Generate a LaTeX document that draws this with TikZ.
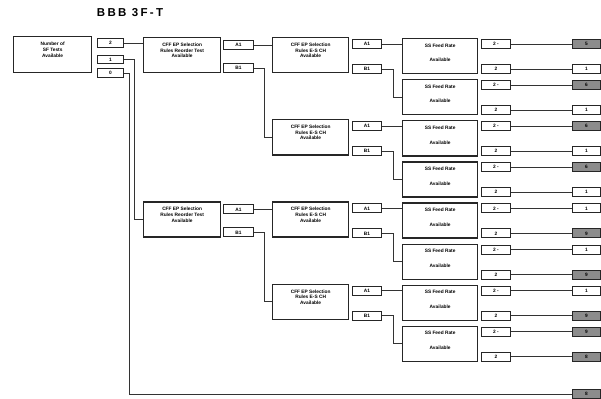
\documentclass[tikz,border=0pt]{standalone}
\usepackage{fontspec}
\setmainfont{Liberation Sans}
\usetikzlibrary{calc}

\begin{document}
\begin{tikzpicture}[x=1pt,y=-1pt,
      font=\fontsize{4.8}{5.6}\selectfont\bfseries,
      unitbox/.style={draw=black!85,line width=1.3pt,anchor=north west,
                      inner sep=0pt,align=center,minimum height=35pt},
      tagbox/.style={draw=black!85,line width=1pt,anchor=north west,
                     inner sep=0pt,minimum width=29pt,minimum height=9pt},
      endbox/.style={tagbox,minimum width=28pt},
      link/.style={draw=black!80,line width=0.8pt}]
    \useasboundingbox (0,0) rectangle (601,398);
    \node[font=\fontsize{11.5}{11.5}\selectfont\bfseries\addfontfeature{LetterSpace=20}]
      (title) at (130,13) {BBB 3F-T};
    % last column: feed units, outputs and end boxes
    \foreach \r/\ca/\cb/\la/\lb in {0/black!45/white/5/1,1/black!45/white/6/1,
        2/black!45/white/6/1,3/black!45/white/6/1,4/white/black!45/1/9,
        5/white/black!45/1/9,6/white/black!45/1/9,7/black!45/black!45/9/8}{
      \pgfmathsetmacro\ty{38+41.1*\r}
      \node[unitbox,minimum width=75pt] (l3-\r) at (402,\ty)
        {SS Feed Rate\\[9pt]Available\\[1pt]};
      \node[tagbox] (oa-\r) at (481,\ty+1) {2 -};
      \node[tagbox] (ob-\r) at (481,\ty+26) {2};
      \node[endbox,fill=\ca] (ea-\r) at (572,\ty+1) {\la};
      \node[endbox,fill=\cb] (eb-\r) at (572,\ty+26) {\lb};
      \draw[link] (oa-\r) -- (ea-\r);
      \draw[link] (ob-\r) -- (eb-\r);
    }
    % second column: selection rules E-S
    \foreach \r in {0,2,4,6}{
      \pgfmathsetmacro\ty{38+41.1*\r}
      \pgfmathtruncatemacro\nx{\r+1}
      \node[unitbox,minimum width=76pt] (l2-\r) at (272,\ty-1)
        {CFF EP Selection\\Rules E-S CH\\Available\\[4pt]};
      \node[tagbox] (sa2-\r) at (352,\ty+1) {A1};
      \node[tagbox] (sb2-\r) at (352,\ty+26) {B1};
      \draw[link] (sa2-\r.east) -- (sa2-\r.east -| l3-\r.west);
      \draw[link] (sb2-\r.east) -- ++(11,0) |- (l3-\nx.west);
    }
    % first column: selection rules reorder
    \foreach \r in {0,4}{
      \pgfmathsetmacro\ty{38+41.1*\r}
      \pgfmathtruncatemacro\nx{\r+2}
      \node[unitbox,minimum width=77pt] (l1-\r) at (143,\ty-1)
        {CFF EP Selection\\Rules Reorder Test\\Available\\[4pt]};
      \node[tagbox,minimum width=30pt] (sa1-\r) at (223,\ty+2) {A1};
      \node[tagbox,minimum width=30pt] (sb1-\r) at (223,\ty+25) {B1};
      \draw[link] (sa1-\r.east) -- (sa1-\r.east -| l2-\r.west);
      \draw[link] (sb1-\r.east) -- ++(10,0) |- (l2-\nx.west);
    }
    % root
    \node[unitbox,minimum width=78pt,minimum height=36pt] (root) at (13,36)
      {Number of\\SF Tests\\Available\\[4pt]};
    \node[tagbox,minimum width=26pt] (t2) at (97,38) {2};
    \node[tagbox,minimum width=26pt,minimum height=8pt] (t1) at (97,55) {1};
    \node[tagbox,minimum width=26pt] (t0) at (97,68) {0};
    \node[endbox,fill=black!45] (efin) at (572,389) {8};
    \draw[link] (t2.east) -- (t2.east -| l1-0.west);
    \draw[link] (t1.east) -- ++(10,0) |- (l1-4.west);
    \draw[link] (t0.east) -- ++(5,0) |- (efin.west);
  \end{tikzpicture}
\end{document}
